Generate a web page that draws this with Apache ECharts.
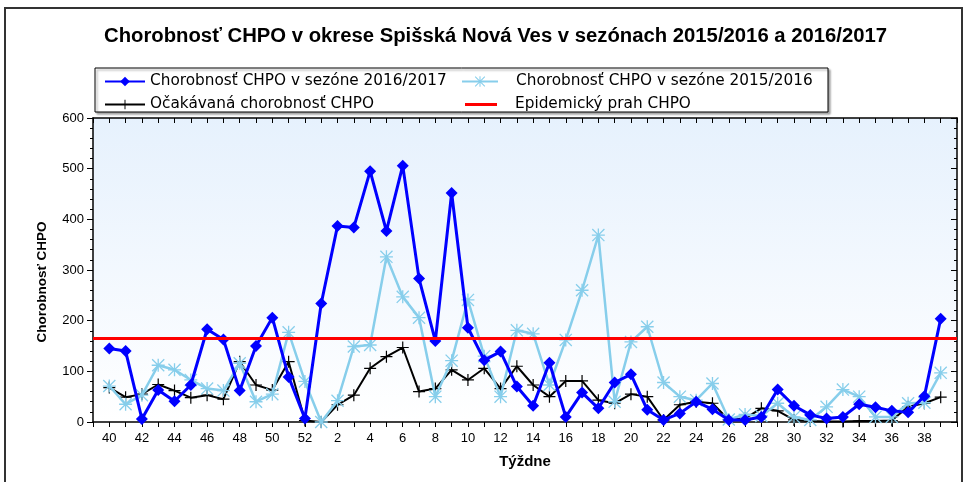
<!DOCTYPE html>
<html>
<head>
<meta charset="utf-8">
<script src="https://cdn.jsdelivr.net/npm/echarts@6/dist/echarts.min.js"></script>
<style>html,body{margin:0;padding:0;background:#fff;}#c{width:967px;height:482px;}</style>
</head>
<body>
<div id="c"></div>
<script>
const weeks = [40,41,42,43,44,45,46,47,48,49,50,51,52,1,2,3,4,5,6,7,8,9,10,11,12,13,14,15,16,17,18,19,20,21,22,23,24,25,26,27,28,29,30,31,32,33,34,35,36,37,38,39];
const season2017 = [145,140,6,63,41,73,183,163,62,150,206,89,7,234,387,384,495,377,506,283,160,452,186,122,139,70,32,117,10,58,27,78,94,24,4,17,40,25,4,4,10,64,32,14,7,10,35,29,22,19,51,204];
const season2016 = [71,35,53,112,103,83,66,62,116,40,55,177,80,0,42,149,152,326,247,206,50,121,241,130,50,181,174,73,162,260,369,40,158,188,78,50,43,76,5,15,12,37,10,4,30,64,50,10,10,37,38,97];
const expected = [68,49,55,74,62,48,53,45,119,73,63,119,3,0,34,53,106,129,147,60,66,103,83,106,66,110,73,50,81,81,43,37,55,50,4,34,40,37,4,7,27,22,4,2,1,1,2,2,3,30,37,49];
const threshold = 166;
const yTicks = [0,100,200,300,400,500,600];

const names = ['Chorobnosť CHPO v sezóne 2016/2017','Chorobnosť CHPO v sezóne 2015/2016','Očakávaná chorobnosť CHPO','Epidemický prah CHPO'];

const asterisk = 'path://M9 0L11 0L11 20L9 20Z M0 9L20 9L20 11L0 11Z M1.4 0L20 18.6L18.6 20L0 1.4Z M18.6 0L20 1.4L1.4 20L0 18.6Z';
const plus = 'path://M9 0L11 0L11 20L9 20Z M0 9L20 9L20 11L0 11Z';

const pts = arr => arr.map((v,i)=>[i,v]);
const font = 'Arial, "Liberation Sans", sans-serif';
const legFont = '"DejaVu Sans", sans-serif';
const legText = {fontFamily:legFont, fontSize:15.3, color:'#000'};
const legText2 = {fontFamily:legFont, fontSize:15.3, color:'#000', padding:[0,0,0,13]};

const chart = echarts.init(document.getElementById('c'), null, {renderer:'canvas'});
const xBase = {
  type:'value', min:-1, max:52, interval:1,
  axisLine:{show:true, onZero:false, lineStyle:{color:'#000', width:1.5}},
  splitLine:{show:false}
};
const yBase = {
  type:'value', min:0, max:600, interval:100,
  axisLine:{show:true, onZero:false, lineStyle:{color:'#000', width:1.5}},
  splitLine:{show:false},
  minorTick:{show:true, splitNumber:5, length:3, lineStyle:{color:'#000'}},
  minorSplitLine:{show:false}
};
chart.setOption({
  animation:false,
  backgroundColor:'#fff',
  title:{
    text:'Chorobnosť CHPO v okrese Spišská Nová Ves v sezónach 2015/2016 a 2016/2017',
    left:99, top:21,
    textStyle:{fontFamily:font, fontSize:20.3, fontWeight:'bold', color:'#000'}
  },
  graphic:[
    {type:'rect', z:-10, shape:{x:5,y:8,width:957,height:490}, style:{fill:'none', stroke:'#333', lineWidth:2}},
    {type:'rect', z:-5, shape:{x:95,y:68,width:733,height:44}, style:{fill:'#fff', stroke:'#000', lineWidth:1, shadowColor:'rgba(0,0,0,0.35)', shadowOffsetX:2, shadowOffsetY:2, shadowBlur:2}},
    {type:'text', x:42, y:282, rotation:Math.PI/2,
      style:{text:'Chorobnosť CHPO', fontFamily:font, fontSize:13.5, fontWeight:'bold', fill:'#000', align:'center', verticalAlign:'middle'}}
  ],
  legend:[
    {data:[names[0]], left:99, top:69, itemWidth:40, itemHeight:12, textStyle:legText},
    {data:[names[1]], left:456, top:69, itemWidth:36, itemHeight:13, textStyle:legText2},
    {data:[names[2]], left:99, top:92, itemWidth:40, itemHeight:12, textStyle:legText},
    {data:[{name:names[3], icon:'rect'}], left:460, top:92, itemWidth:32, itemHeight:3, textStyle:legText2}
  ],
  grid:{left:93, top:118, right:10, bottom:60, show:true, borderWidth:0,
    backgroundColor:{type:'linear', x:0, y:0, x2:0, y2:1, colorStops:[{offset:0,color:'#e6f1fd'},{offset:1,color:'#ffffff'}]}},
  xAxis:[
    Object.assign({}, xBase, {
      position:'bottom',
      name:'Týždne', nameLocation:'middle', nameGap:32,
      nameTextStyle:{fontFamily:font, fontSize:15, fontWeight:'bold', color:'#000'},
      axisTick:{show:true, length:5, lineStyle:{color:'#000'}},
      axisLabel:{show:true, margin:10, fontFamily:font, fontSize:13, color:'#000',
        formatter: v => (v>=0 && v<weeks.length && v%2===0) ? String(weeks[v]) : ''}
    }),
    Object.assign({}, xBase, {
      position:'top',
      axisTick:{show:true, inside:true, length:5, lineStyle:{color:'#000'}},
      axisLabel:{show:false}
    })
  ],
  yAxis:[
    Object.assign({}, yBase, {
      position:'left',
      axisTick:{show:true, length:6, lineStyle:{color:'#000'}},
      axisLabel:{show:true, margin:9, fontFamily:font, fontSize:13, color:'#000',
        formatter: v => yTicks.indexOf(v)>=0 ? String(v) : ''}
    }),
    Object.assign({}, yBase, {
      position:'right',
      axisTick:{show:true, inside:true, length:6, lineStyle:{color:'#000'}},
      minorTick:{show:true, splitNumber:5, length:3, lineStyle:{color:'#000'}},
      axisLabel:{show:false}
    })
  ],
  series:[
    {name:names[3], type:'line', data:[], color:'#ff0000', symbol:'none',
      lineStyle:{width:3, color:'#ff0000'}, itemStyle:{color:'#ff0000'}, z:1,
      markLine:{silent:true, symbol:'none', label:{show:false},
        lineStyle:{color:'#ff0000', width:3, type:'solid'}, data:[{yAxis:threshold}]}},
    {name:names[2], type:'line', data:pts(expected), color:'#000',
      symbol:plus, symbolSize:12, itemStyle:{color:'#000'}, lineStyle:{width:2, color:'#000'}, z:2},
    {name:names[1], type:'line', data:pts(season2016), color:'#87ceeb',
      symbol:asterisk, symbolSize:13, itemStyle:{color:'#87ceeb'}, lineStyle:{width:2.5, color:'#87ceeb'}, z:3},
    {name:names[0], type:'line', data:pts(season2017), color:'#0000ff',
      symbol:'diamond', symbolSize:12, itemStyle:{color:'#0000ff'}, lineStyle:{width:3, color:'#0000ff'}, z:4}
  ]
});
</script>
</body>
</html>
